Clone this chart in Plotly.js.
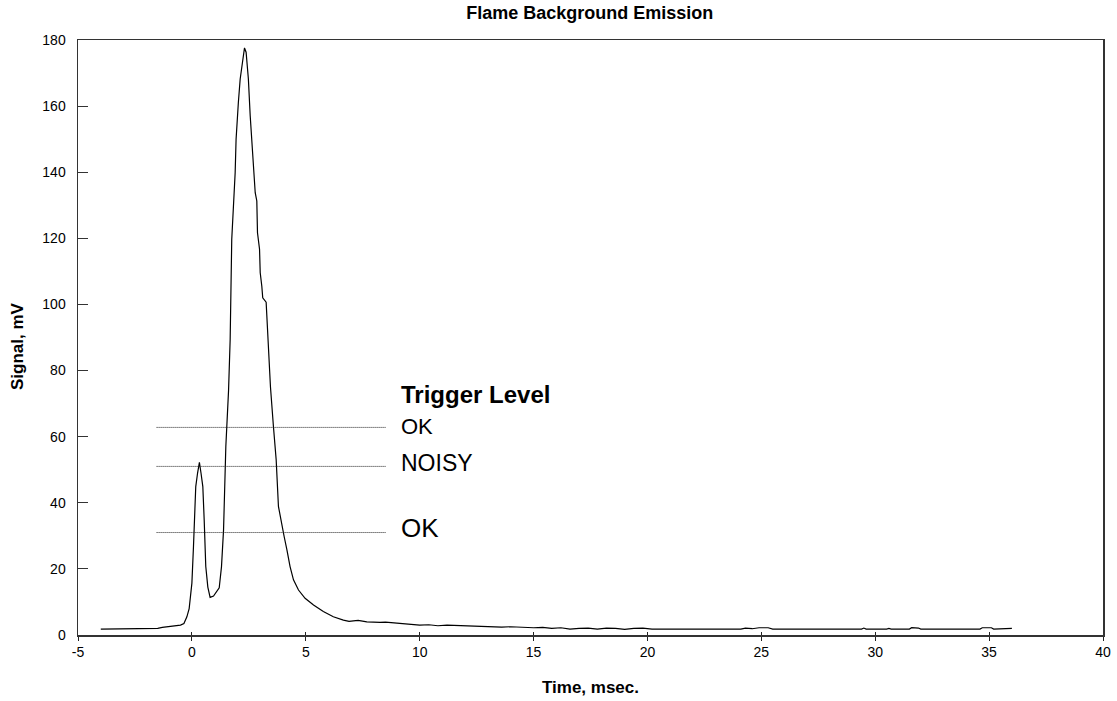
<!DOCTYPE html>
<html>
<head>
<meta charset="utf-8">
<script src="https://cdn.plot.ly/plotly-3.0.1.min.js"></script>
<style>html,body{margin:0;padding:0;background:#fff;}#chart{width:1117px;height:701px;}</style>
</head>
<body>
<div id="chart"></div>
<script>
// Time in msec
const time = [-4.0, -1.85, -1.7, -1.5, -1.3, -1.1, -0.9, -0.7, -0.5, -0.35, -0.22, -0.12, -0.05, 0.0, 0.07, 0.17, 0.25, 0.33, 0.40, 0.48, 0.54, 0.61, 0.70, 0.80, 0.95, 1.10, 1.20, 1.30, 1.39, 1.49, 1.61, 1.68, 1.75, 1.90, 1.94, 2.04, 2.12, 2.22, 2.31, 2.38, 2.48, 2.56, 2.63, 2.68, 2.78, 2.85, 2.88, 2.97, 3.00, 3.07, 3.11, 3.26, 3.32, 3.40, 3.45, 3.58, 3.70, 3.80, 3.95, 4.05, 4.17, 4.31, 4.46, 4.68, 4.97, 5.34, 5.77, 6.21, 6.65, 6.9, 7.09, 7.3, 7.68, 7.9, 8.26, 8.5, 8.84, 9.2, 9.57, 10.0, 10.4, 10.8, 11.2, 11.6, 12.0, 12.4, 12.8, 13.2, 13.6, 14.0, 14.5, 15.0, 15.4, 15.8, 16.2, 16.6, 17.0, 17.4, 17.8, 18.2, 18.6, 19.0, 19.4, 19.8, 20.2, 24.1, 24.3, 24.6, 24.9, 25.3, 25.5, 29.4, 29.5, 29.6, 30.5, 30.6, 30.7, 31.5, 31.6, 31.9, 32.0, 34.6, 34.7, 35.1, 35.2, 35.9, 36.0];
// Signal in mV
const signal = [1.8, 1.8, 2.0, 2.0, 2.3, 2.5, 2.7, 2.9, 3.0, 3.5, 5.5, 8.0, 12.0, 15.7, 26.8, 44.9, 49.0, 52.2, 49.0, 44.9, 34.8, 20.7, 14.5, 11.4, 11.8, 13.5, 14.3, 20.7, 31.8, 57.0, 74.0, 89.4, 119.7, 139.9, 150.0, 161.1, 168.2, 173.2, 177.6, 176.3, 168.2, 157.1, 150.0, 141.9, 133.8, 131.3, 121.7, 116.7, 109.6, 105.5, 102.0, 100.7, 91.4, 80.0, 75.0, 63.1, 53.0, 38.9, 32.8, 29.8, 25.8, 20.7, 16.7, 13.6, 11.1, 9.1, 7.1, 5.5, 4.5, 4.1, 4.3, 4.4, 4.0, 3.9, 3.8, 3.9, 3.7, 3.5, 3.2, 3.0, 3.1, 2.8, 3.0, 2.9, 2.7, 2.8, 2.5, 2.6, 2.4, 2.5, 2.3, 2.2, 2.3, 2.0, 2.2, 1.8, 2.0, 2.1, 1.8, 2.1, 2.0, 1.7, 2.0, 2.1, 1.8, 1.8, 2.1, 1.9, 2.2, 2.2, 1.8, 1.8, 2.1, 1.8, 1.8, 2.0, 1.8, 1.8, 2.2, 2.1, 1.8, 1.8, 2.2, 2.2, 1.8, 1.8, 2.0];

// Axis ticks
const xTicks = [-5, 0, 5, 10, 15, 20, 25, 30, 35, 40];
const xTickText = ["-5", "0", "5", "10", "15", "20", "25", "30", "35", "40"];
const yTicks = [0, 20, 40, 60, 80, 100, 120, 140, 160, 180];

// Trigger levels
const triggerLevels = [62.8, 51.0, 31.0];
const triggerStart = -1.55;
const triggerEnd = 8.5;
const triggerLabels = ["OK", "NOISY", "OK"];
const triggerLabelY = [63.0, 52.1, 32.4];
const triggerLabelSizes = [22, 23, 26];
const triggerTitle = "Trigger Level";
const triggerTitleY = 72.7;
const labelX = 9.1;

const FONT = 'Liberation Sans, Arial, sans-serif';

const traces = [{
  x: time, y: signal, type: 'scatter', mode: 'lines',
  line: {color: '#000', width: 1.2}, hoverinfo: 'skip', showlegend: false
}];
triggerLevels.forEach(v => {
  traces.push({
    x: [triggerStart, triggerEnd], y: [v, v], type: 'scatter', mode: 'lines',
    line: {color: '#222', width: 1, dash: '1px,1px'}, showlegend: false, hoverinfo: 'skip'
  });
});
// overlay axis to make crossing x ticks
traces.push({x: [-5, 40], y: [0, 0], xaxis: 'x2', type: 'scatter', mode: 'lines', line: {width: 0}, showlegend: false, hoverinfo: 'skip'});

const annotations = [{
  x: labelX, y: triggerTitleY, xref: 'x', yref: 'y', text: '<b>' + triggerTitle + '</b>',
  showarrow: false, xanchor: 'left', yanchor: 'middle',
  font: {family: FONT, size: 24, color: '#000'}
}];
triggerLabels.forEach((t, i) => {
  annotations.push({
    x: labelX, y: triggerLabelY[i], xref: 'x', yref: 'y', text: t,
    showarrow: false, xanchor: 'left', yanchor: 'middle',
    font: {family: FONT, size: triggerLabelSizes[i], color: '#000'}
  });
});
annotations.push({
  x: 18, y: 346, xref: 'paper', yref: 'paper', text: '<b>Signal, mV</b>', textangle: -90,
  showarrow: false, xanchor: 'center', yanchor: 'middle', font: {family: FONT, size: 17, color: '#000'}
});

const layout = {
  width: 1117, height: 701,
  margin: {l: 78, r: 14, t: 40, b: 66},
  paper_bgcolor: '#fff', plot_bgcolor: '#fff',
  font: {family: FONT, color: '#000', size: 14},
  title: {text: '<b>Flame Background Emission</b>', x: 0.528, xanchor: 'center', y: 0.982, yanchor: 'middle',
          font: {size: 18, family: FONT, color: '#000'}},
  xaxis: {
    range: [-5, 40], tickvals: xTicks, ticktext: xTickText,
    ticks: 'outside', ticklen: 4, tickcolor: '#222', tickwidth: 1,
    showgrid: false, zeroline: false, showline: true, linecolor: '#333', linewidth: 1.5, mirror: true,
    tickfont: {size: 14},
    title: {text: '<b>Time, msec.</b>', font: {size: 17}, standoff: 22}
  },
  xaxis2: {
    overlaying: 'x', matches: 'x', range: [-5, 40], tickvals: xTicks,
    ticks: 'inside', ticklen: 3, tickcolor: '#222', showticklabels: false, showgrid: false, zeroline: false,
    showline: false, side: 'bottom', anchor: 'y'
  },
  yaxis: {
    range: [0, 180], tickvals: yTicks,
    ticks: 'inside', ticklen: 10, tickcolor: '#333', tickwidth: 1,
    showgrid: false, zeroline: false, showline: true, linecolor: '#333', linewidth: 1.5, mirror: true,
    tickfont: {size: 14}, ticklabelstandoff: 8
  },
  annotations: annotations
};
// convert pixel position of y title annotation to paper coords
const plotW = layout.width - layout.margin.l - layout.margin.r;
const plotH = layout.height - layout.margin.t - layout.margin.b;
const yt = annotations[annotations.length - 1];
yt.x = (yt.x - layout.margin.l) / plotW;
yt.y = (layout.height - layout.margin.b - yt.y) / plotH;

Plotly.newPlot('chart', traces, layout, {displayModeBar: false, staticPlot: true});
</script>
</body>
</html>
